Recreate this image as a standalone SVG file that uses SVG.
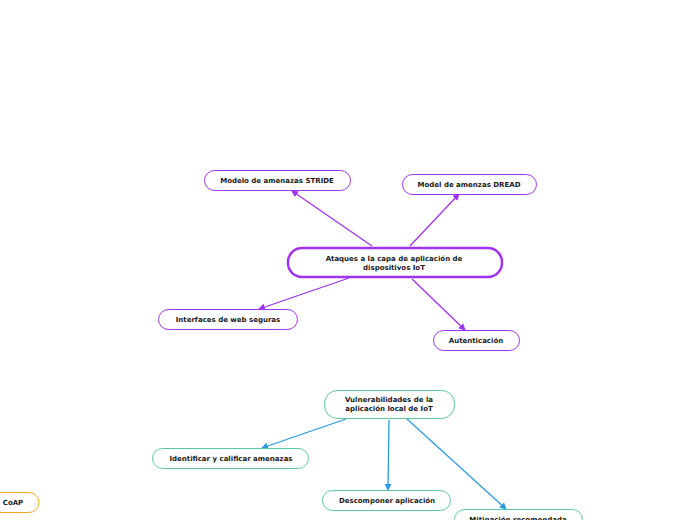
<svg xmlns="http://www.w3.org/2000/svg" width="696" height="520" viewBox="0 0 696 520">
<defs>
<marker id="ap" markerWidth="8" markerHeight="8" refX="6" refY="4" orient="auto" markerUnits="userSpaceOnUse"><path d="M0,0.5 L7,4 L0,7.5 Z" fill="#a033f0"/></marker>
<marker id="ab" markerWidth="8" markerHeight="8" refX="6" refY="4" orient="auto" markerUnits="userSpaceOnUse"><path d="M0,0.5 L7,4 L0,7.5 Z" fill="#2b9be0"/></marker>
<style>
.t{font-family:"DejaVu Sans",Verdana,sans-serif;font-weight:bold;font-size:7px;fill:#1a1a1a;text-anchor:middle}
.p{fill:#fff;stroke:#a033f0;stroke-width:1}
.pc{fill:#fff;stroke:#a033f0;stroke-width:2.5}
.g{fill:#fff;stroke:#5cc7a4;stroke-width:1}
.o{fill:#fff;stroke:#f5a623;stroke-width:1}
.cp{stroke:#a033f0;stroke-width:1.3;fill:none;marker-end:url(#ap)}
.cb{stroke:#2b9be0;stroke-width:1.3;fill:none;marker-end:url(#ab)}
</style>
</defs>
<rect width="696" height="520" fill="#fff"/>
<g id="connectors">
<line class="cp" x1="372" y1="246" x2="292" y2="191"/>
<line class="cp" x1="410" y1="246" x2="459" y2="194"/>
<line class="cp" x1="349" y1="278" x2="259" y2="309"/>
<line class="cp" x1="412" y1="279" x2="465" y2="330"/>
<line class="cb" x1="346" y1="419" x2="262" y2="448"/>
<line class="cb" x1="389" y1="420" x2="388" y2="490"/>
<line class="cb" x1="407" y1="419" x2="506" y2="509"/>
</g>
<g id="central"><rect class="pc" x="288" y="248" width="214" height="29" rx="14"/><text class="t" x="394" y="261">Ataques a la capa de aplicación de</text><text class="t" x="394" y="270">dispositivos IoT</text></g>
<g id="stride"><rect class="p" x="204.5" y="170.5" width="146" height="20" rx="10"/><text class="t" x="277" y="183">Modelo de amenazas STRIDE</text></g>
<g id="dread"><rect class="p" x="402.5" y="174.5" width="134" height="20" rx="10"/><text class="t" x="469" y="187">Model de amenzas DREAD</text></g>
<g id="interfaces"><rect class="p" x="158.5" y="309.5" width="139" height="20" rx="10"/><text class="t" x="228" y="322">Interfaces de web seguras</text></g>
<g id="autenticacion"><rect class="p" x="433.5" y="330.5" width="86" height="20" rx="10"/><text class="t" x="476" y="343">Autenticación</text></g>
<g id="vulnerabilidades"><rect class="g" x="324.5" y="390.5" width="130" height="28" rx="13"/><text class="t" x="389" y="402">Vulnerabilidades de la</text><text class="t" x="389" y="411">aplicación local de IoT</text></g>
<g id="identificar"><rect class="g" x="152.5" y="448.5" width="156" height="20" rx="10"/><text class="t" x="231" y="461">Identificar y calificar amenazas</text></g>
<g id="descomponer"><rect class="g" x="322.5" y="490.5" width="128" height="20" rx="10"/><text class="t" x="387" y="503">Descomponer aplicación</text></g>
<g id="mitigacion"><rect class="g" x="454.5" y="509.5" width="128" height="20" rx="10"/><text class="t" x="518" y="522">Mitigación recomendada</text></g>
<g id="coap"><rect class="o" x="-20" y="492.5" width="59" height="20" rx="10"/><text class="t" x="13" y="505">CoAP</text></g>
</svg>
